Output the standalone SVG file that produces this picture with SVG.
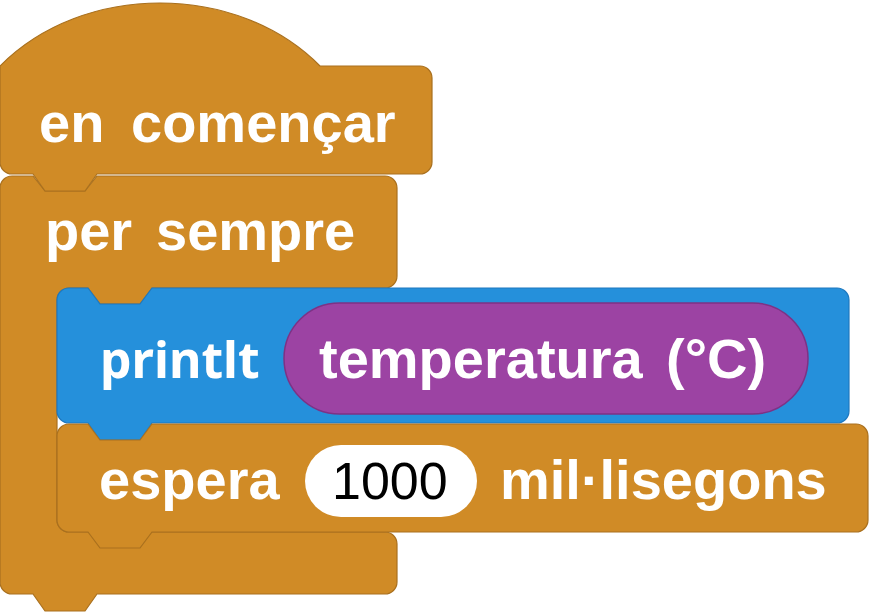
<svg xmlns="http://www.w3.org/2000/svg" width="870" height="612" viewBox="0 0 870 612">
<style>
.ctl{fill:#D08B26;stroke:#A9701E;stroke-width:1.2}
.blu{fill:#2590DB;stroke:#1E78BF;stroke-width:1.2}
.pur{fill:#9C43A3;stroke:#7E3285;stroke-width:1.5}
.inp{fill:#FFFFFF}
.lbl{font-family:"Liberation Sans",Arial,sans-serif;font-weight:bold;font-size:56px;fill:#FFFFFF}
.lbl2{font-family:"Noto Sans","Open Sans",sans-serif;font-weight:bold;font-size:50px;fill:#FFFFFF}
.num{font-family:"Liberation Sans",Arial,sans-serif;font-size:52px;fill:#000000}
</style>
<g id="forever">
<path class="ctl" d="M0,188 a12,12 0 0 1 12,-12 H33 L45,191 H85 L97,176 H385 a12,12 0 0 1 12,12 V276 a12,12 0 0 1 -12,12 H152 L140,304 H100 L88,288 H69 a12,12 0 0 0 -12,12 V520 a12,12 0 0 0 12,12 H385 a12,12 0 0 1 12,12 V582 a12,12 0 0 1 -12,12 H97 L85,611 H45 L33,594 H12 a12,12 0 0 1 -12,-12 Z"/>
<text class="lbl" x="45" y="250">per</text>
<text class="lbl" x="156" y="250">sempre</text>
</g>
<g id="start">
<path class="ctl" d="M0,66 C83,-18 237,-18 320,66 H420 a12,12 0 0 1 12,12 V162 a12,12 0 0 1 -12,12 H97 L85,191 H45 L33,174 H12 a12,12 0 0 1 -12,-12 Z"/>
<text class="lbl" x="39" y="142">en</text>
<text class="lbl" x="131" y="142">començar</text>
</g>
<g id="println">
<path class="blu" d="M57,300 a12,12 0 0 1 12,-12 H88 L100,304 H140 L152,288 H837 a12,12 0 0 1 12,12 V411 a12,12 0 0 1 -12,12 H152 L140,440 H100 L88,423 H69 a12,12 0 0 1 -12,-12 Z"/>
<text class="lbl2" x="100" y="378">printlt</text>
<g id="temperature">
<rect class="pur" x="284" y="303" width="524" height="111" rx="55.5"/>
<text class="lbl" x="319" y="378">temperatura</text>
<text class="lbl" x="666" y="378">(°C)</text>
</g>
</g>
<g id="wait">
<path class="ctl" d="M57,436 a12,12 0 0 1 12,-12 H88 L100,440 H140 L152,424 H856 a12,12 0 0 1 12,12 V520 a12,12 0 0 1 -12,12 H152 L140,548 H100 L88,532 H69 a12,12 0 0 1 -12,-12 Z"/>
<text class="lbl" x="99" y="499">espera</text>
<rect class="inp" x="305" y="445" width="172" height="72" rx="36"/>
<text class="num" x="332" y="499">1000</text>
<text class="lbl" x="500" y="499">mil·lisegons</text>
</g>
</svg>
